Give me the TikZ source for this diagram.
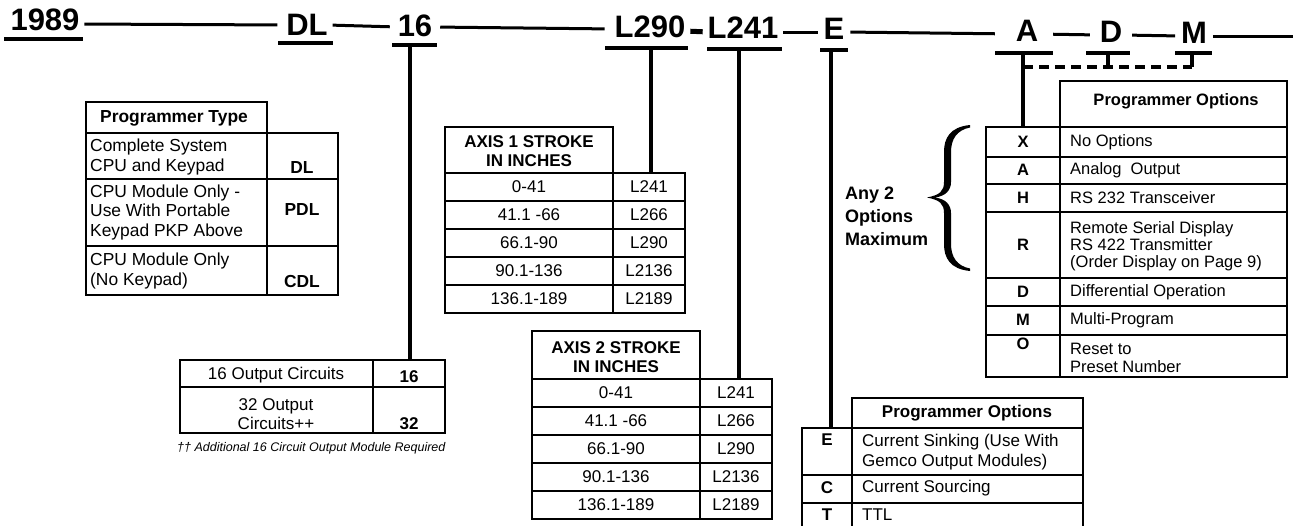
\documentclass[tikz,border=0pt]{standalone}
\usepackage{fontspec}
\setmainfont{Liberation Sans}
\usetikzlibrary{calc}
\begin{document}
\begin{tikzpicture}[x=1pt,y=-1pt,
  hdr/.style={font=\fontsize{31}{36}\selectfont\bfseries, inner sep=0pt, outer sep=0pt},
  hline/.style={line width=3pt},
  uline/.style={line width=4pt},
  stem/.style={line width=4pt},
  tbl/.style={line width=1.5pt},
  txt/.style={font=\fontsize{17}{19.5}\selectfont, inner sep=0pt, align=center},
  txl/.style={font=\fontsize{17}{19.5}\selectfont, inner sep=0pt, align=left, anchor=west},
  txb/.style={font=\fontsize{17}{19.5}\selectfont\bfseries, inner sep=0pt, align=center},
  rtl/.style={font=\fontsize{16.5}{19.5}\selectfont, inner sep=0pt, align=left, anchor=west},
  rtb/.style={font=\fontsize{16.5}{19.5}\selectfont\bfseries, inner sep=0pt, align=center},
]
\fill[white] (0,0) rectangle (1293,525);
\useasboundingbox (0,0) rectangle (1293,525);

% ---------- header ----------
\node[hdr] (h1989) at (45,20) {1989};
\node[hdr] (hDL) at (307,25) {DL};
\node[hdr] (h16) at (415,26) {16};
\node[hdr] (hL290) at (650,27) {L290};
\node[hdr] (hL241) at (743,28) {L241};
\node[hdr] (hE) at (834,29) {E};
\node[hdr] (hA) at (1027,31) {A};
\node[hdr] (hD) at (1111,32) {D};
\node[hdr] (hM) at (1194,33) {M};
\coordinate (hend) at (1293,36);

\draw[hline, shorten <=5pt, shorten >=9pt] ($(h1989.east)+(0,4)$) -- ($(hDL.west)+(0,0)$);
\draw[hline, shorten <=5pt, shorten >=8pt] ($(hDL.east)+(0,0)$) -- ($(h16.west)+(0,1)$);
\draw[hline, shorten <=8pt, shorten >=10pt] ($(h16.east)+(0,1)$) -- ($(hL290.west)+(0,2)$);
\draw[line width=5pt, shorten <=5pt, shorten >=5pt] ($(hL290.east)+(0,4)$) -- ($(hL241.west)+(0,4)$);
\draw[hline, shorten <=5pt, shorten >=6pt] ($(hL241.east)+(0,4)$) -- ($(hE.west)+(0,3)$);
\draw[hline, shorten <=6pt, shorten >=21pt] ($(hE.east)+(0,3)$) -- ($(hA.west)+(0,3)$);
\draw[hline, shorten <=15pt, shorten >=10pt] ($(hA.east)+(0,3)$) -- ($(hD.west)+(0,3)$);
\draw[hline, shorten <=10pt, shorten >=6pt] ($(hD.east)+(0,3)$) -- ($(hM.west)+(0,3)$);
\draw[hline, shorten <=6pt] ($(hM.east)+(0,3)$) -- (hend);

% underlines
\draw[uline] (4,39) -- (83,39);
\draw[uline] (278,43) -- (333,43);
\draw[uline] (392,45) -- (437,45);
\draw[uline] (605,48) -- (688,48);
\draw[uline] (707,49) -- (782,49);
\draw[uline] (820,50) -- (848,50);
\draw[uline] (995,53) -- (1053,53);
\draw[uline] (1086,53) -- (1130,53);
\draw[uline] (1175,53) -- (1212,53);

% stems
\coordinate (s16a) at (410,45);   \coordinate (s16b) at (410,360);
\coordinate (s290a) at (651,48);  \coordinate (s290b) at (651,173);
\coordinate (s241a) at (739,49);  \coordinate (s241b) at (739,379);
\coordinate (sEa) at (831,50);    \coordinate (sEb) at (831,428);
\coordinate (sAa) at (1023,53);   \coordinate (sAb) at (1023,127);
\coordinate (sAd) at (1023,67);
\coordinate (sDa) at (1108,53);   \coordinate (sDb) at (1108,67);
\coordinate (sMa) at (1192,53);   \coordinate (sMb) at (1192,67);
\draw[stem] (s16a) -- (s16b);
\draw[stem] (s290a) -- (s290b);
\draw[stem] (s241a) -- (s241b);
\draw[stem] (sEa) -- (sEb);
\draw[stem] (sAa) -- (sAb);
\draw[stem] (sDa) -- (sDb);
\draw[stem] (sMa) -- (sMb);
\draw[stem, dash pattern=on 10pt off 6pt] (sAd) -- (sMb);

% ---------- Programmer Type table ----------
\begin{scope}[txb/.append style={font=\fontsize{17.4}{19.5}\selectfont\bfseries},
              txl/.append style={font=\fontsize{17.4}{19.5}\selectfont}]
\draw[tbl] (86,102) rectangle (267,133);
\draw[tbl] (86,133) rectangle (338,295);
\draw[tbl] (267,133) -- (267,295);
\draw[tbl] (86,179) -- (338,179);
\draw[tbl] (86,246) -- (338,246);
\node[txb] (pth) at (174,118) {Programmer Type};
\node[txl] (pt1) at (90,157) {Complete System\\CPU and Keypad};
\node[txb] (pt1c) at (302,168) {DL};
\node[txl] (pt2) at (90,212) {CPU Module Only -\\Use With Portable\\Keypad PKP Above};
\node[txb] (pt2c) at (302,210) {PDL};
\node[txl] (pt3) at (90,271) {CPU Module Only\\(No Keypad)};
\node[txb] (pt3c) at (302,282) {CDL};
\end{scope}

% ---------- 16 / 32 table ----------
\draw[tbl] (180,360) rectangle (445,433);
\draw[tbl] (373,360) -- (373,433);
\draw[tbl] (180,387) -- (445,387);
\node[txt] (o1) at (276,375) {16 Output Circuits};
\node[txb] (o1c) at (409,377) {16};
\node[txt] (o2) at (276,414) {32 Output\\Circuits++};
\node[txb] (o2c) at (409,424) {32};
\node[font=\fontsize{12.5}{15}\selectfont\itshape, anchor=west, inner sep=0pt] (fn) at (177,448)
  {†† Additional 16 Circuit Output Module Required};

% ---------- Axis 1 table ----------
\draw[tbl] (445,127) rectangle (613,173);
\draw[tbl] (445,173) rectangle (685,313);
\draw[tbl] (613,173) -- (613,313);
\foreach \y in {201,229,257,285} \draw[tbl] (445,\y) -- (685,\y);
\node[txb] (a1h) at (529,151) {AXIS 1 STROKE\\IN INCHES};
\foreach \l/\r [count=\i] in {0-41/L241, 41.1 -66/L266, 66.1-90/L290, 90.1-136/L2136, 136.1-189/L2189}{
  \node[txt] (a1l\i) at (529,159+28*\i) {\l};
  \node[txt] (a1r\i) at (649,159+28*\i) {\r};
}

% ---------- Axis 2 table ----------
\draw[tbl] (532,331) rectangle (700,379);
\draw[tbl] (532,379) rectangle (772,519);
\draw[tbl] (700,379) -- (700,519);
\foreach \y in {407,435,463,491} \draw[tbl] (532,\y) -- (772,\y);
\node[txb] (a2h) at (616,357) {AXIS 2 STROKE\\IN INCHES};
\foreach \l/\r [count=\i] in {0-41/L241, 41.1 -66/L266, 66.1-90/L290, 90.1-136/L2136, 136.1-189/L2189}{
  \node[txt] (a2l\i) at (616,365+28*\i) {\l};
  \node[txt] (a2r\i) at (736,365+28*\i) {\r};
}

% ---------- right Programmer Options table ----------
\draw[tbl] (1060,81) rectangle (1287,127);
\draw[tbl] (986,127) rectangle (1287,377);
\draw[tbl] (1060,127) -- (1060,377);
\foreach \y in {157,184,212,278,306,335} \draw[tbl] (986,\y) -- (1287,\y);
\node[rtb] (roh) at (1176,101) {Programmer Options};
\node[rtb] (roX) at (1023,142) {X};
\node[rtl] (roXt) at (1070,142) {No Options};
\node[rtb] (roA) at (1023,170) {A};
\node[rtl] (roAt) at (1070,170) {Analog\ \ Output};
\node[rtb] (roH) at (1023,198) {H};
\node[rtl] (roHt) at (1070,198) {RS 232 Transceiver};
\node[rtb] (roR) at (1023,245) {R};
\node[rtl, font=\fontsize{16.5}{17}\selectfont] (roRt) at (1070,246) {Remote Serial Display\\RS 422 Transmitter\\(Order Display on Page 9)};
\node[rtb] (roD) at (1023,292) {D};
\node[rtl] (roDt) at (1070,292) {Differential Operation};
\node[rtb] (roM) at (1023,320) {M};
\node[rtl] (roMt) at (1070,320) {Multi-Program};
\node[rtb] (roO) at (1023,344) {O};
\node[rtl, font=\fontsize{16.5}{18}\selectfont] (roOt) at (1070,358) {Reset to\\Preset Number};

% brace + note
\fill
  (970,125) .. controls (950,127) and (944,138) .. (944,152) -- (944,182)
  .. controls (944,191) and (940,195) .. (927,197.5)
  .. controls (940,200) and (944,204) .. (944,213) -- (944,244)
  .. controls (944,258) and (950,269) .. (970,271)
  -- (970,268.5)
  .. controls (957,266) and (951,257) .. (951,244) -- (951,213)
  .. controls (951,205) and (946,199) .. (935,197.5)
  .. controls (946,196) and (951,190) .. (951,182) -- (951,152)
  .. controls (951,139) and (957,130) .. (970,127.5) -- cycle;
\node[font=\fontsize{18}{23}\selectfont\bfseries, align=left, anchor=west, inner sep=0pt] (note) at (845,216)
  {Any 2\\Options\\Maximum};

% ---------- E Programmer Options table ----------
\draw[tbl] (852,398) rectangle (1083,428);
\draw[tbl] (802,526) -- (802,428) -- (1083,428) -- (1083,526);
\draw[tbl] (852,428) -- (852,526);
\draw[tbl] (802,475) -- (1083,475);
\draw[tbl] (802,503) -- (1083,503);
\node[txb] (eh) at (967,413) {Programmer Options};
\node[txb] (eE) at (827,440) {E};
\node[txl] (eEt) at (862,452) {Current Sinking (Use With\\Gemco Output Modules)};
\node[txb] (eC) at (827,488) {C};
\node[txl] (eCt) at (862,488) {Current Sourcing};
\node[txb] (eT) at (827,515) {T};
\node[txl] (eTt) at (862,515) {TTL};
\end{tikzpicture}
\end{document}
